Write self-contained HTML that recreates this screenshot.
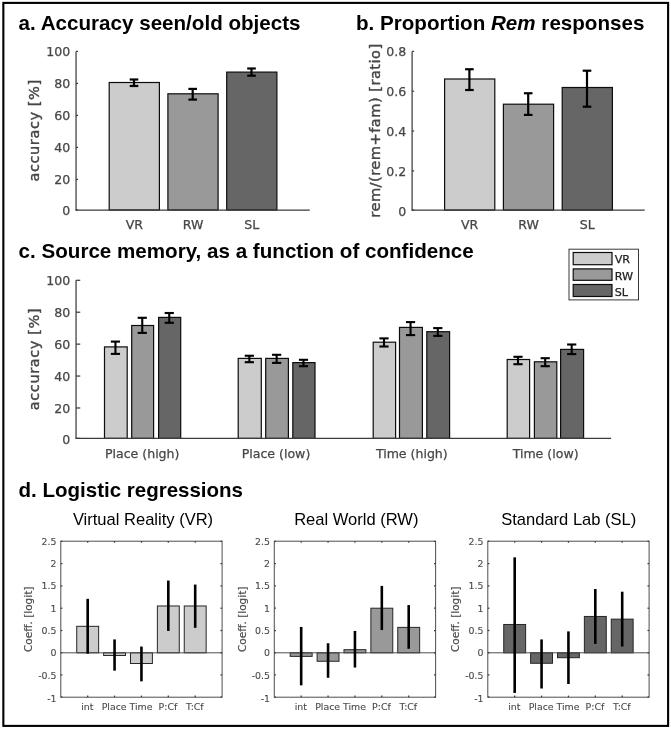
<!DOCTYPE html>
<html><head><meta charset="utf-8"><title>Figure</title>
<style>
html,body{margin:0;padding:0;background:#fff;}
svg{display:block;filter:blur(0.35px);}
text{white-space:pre;}
</style></head><body>
<svg width="671" height="729" viewBox="0 0 671 729">
<rect x="0" y="0" width="671" height="729" fill="#ffffff"/>
<rect x="3.35" y="2.9" width="664.75" height="723.0" fill="#fff" stroke="#000" stroke-width="2.1"/>
<text x="18.60" y="29.60" font-family='"Liberation Sans","DejaVu Sans",sans-serif' font-size="20.6" text-anchor="start" fill="#000" font-weight="bold" >a. Accuracy seen/old objects</text>
<text x="356.00" y="29.60" font-family='"Liberation Sans","DejaVu Sans",sans-serif' font-size="20.6" text-anchor="start" fill="#000" font-weight="bold" >b. Proportion <tspan font-style="italic">Rem</tspan> responses</text>
<text x="18.60" y="257.60" font-family='"Liberation Sans","DejaVu Sans",sans-serif' font-size="20.6" text-anchor="start" fill="#000" font-weight="bold" >c. Source memory, as a function of confidence</text>
<text x="18.60" y="496.80" font-family='"Liberation Sans","DejaVu Sans",sans-serif' font-size="20.5" text-anchor="start" fill="#000" font-weight="bold" >d. Logistic regressions</text>
<rect x="109.20" y="82.50" width="50.20" height="127.50" fill="#cccccc" stroke="#0d0d0d" stroke-width="1.2"/>
<line x1="134.00" y1="79.50" x2="134.00" y2="86.00" stroke="#000" stroke-width="2.2" />
<line x1="129.70" y1="79.50" x2="138.30" y2="79.50" stroke="#000" stroke-width="2.2" />
<line x1="129.70" y1="86.00" x2="138.30" y2="86.00" stroke="#000" stroke-width="2.2" />
<text x="134.30" y="229.40" font-family='"DejaVu Sans","Liberation Sans",sans-serif' font-size="12.55" text-anchor="middle" fill="#464646" font-weight="normal"  stroke="#464646" stroke-width="0.25">VR</text>
<rect x="167.90" y="93.80" width="50.20" height="116.20" fill="#999999" stroke="#0d0d0d" stroke-width="1.2"/>
<line x1="192.70" y1="88.90" x2="192.70" y2="99.60" stroke="#000" stroke-width="2.2" />
<line x1="188.40" y1="88.90" x2="197.00" y2="88.90" stroke="#000" stroke-width="2.2" />
<line x1="188.40" y1="99.60" x2="197.00" y2="99.60" stroke="#000" stroke-width="2.2" />
<text x="193.00" y="229.40" font-family='"DejaVu Sans","Liberation Sans",sans-serif' font-size="12.55" text-anchor="middle" fill="#464646" font-weight="normal"  stroke="#464646" stroke-width="0.25">RW</text>
<rect x="226.70" y="72.10" width="50.20" height="137.90" fill="#666666" stroke="#0d0d0d" stroke-width="1.2"/>
<line x1="251.50" y1="68.50" x2="251.50" y2="75.70" stroke="#000" stroke-width="2.2" />
<line x1="247.20" y1="68.50" x2="255.80" y2="68.50" stroke="#000" stroke-width="2.2" />
<line x1="247.20" y1="75.70" x2="255.80" y2="75.70" stroke="#000" stroke-width="2.2" />
<text x="251.80" y="229.40" font-family='"DejaVu Sans","Liberation Sans",sans-serif' font-size="12.55" text-anchor="middle" fill="#464646" font-weight="normal"  stroke="#464646" stroke-width="0.25">SL</text>
<line x1="76.05" y1="51.40" x2="76.05" y2="210.50" stroke="#3c3c3c" stroke-width="1.25" />
<line x1="75.55" y1="210.00" x2="309.75" y2="210.00" stroke="#3c3c3c" stroke-width="1.25" />
<line x1="76.05" y1="210.00" x2="78.05" y2="210.00" stroke="#3c3c3c" stroke-width="1.25" />
<text x="70.15" y="215.40" font-family='"DejaVu Sans","Liberation Sans",sans-serif' font-size="12.55" text-anchor="end" fill="#464646" font-weight="normal"  stroke="#464646" stroke-width="0.25">0</text>
<line x1="76.05" y1="179.40" x2="78.05" y2="179.40" stroke="#3c3c3c" stroke-width="1.25" />
<text x="70.15" y="184.00" font-family='"DejaVu Sans","Liberation Sans",sans-serif' font-size="12.55" text-anchor="end" fill="#464646" font-weight="normal"  stroke="#464646" stroke-width="0.25">20</text>
<line x1="76.05" y1="147.40" x2="78.05" y2="147.40" stroke="#3c3c3c" stroke-width="1.25" />
<text x="70.15" y="152.00" font-family='"DejaVu Sans","Liberation Sans",sans-serif' font-size="12.55" text-anchor="end" fill="#464646" font-weight="normal"  stroke="#464646" stroke-width="0.25">40</text>
<line x1="76.05" y1="115.40" x2="78.05" y2="115.40" stroke="#3c3c3c" stroke-width="1.25" />
<text x="70.15" y="120.00" font-family='"DejaVu Sans","Liberation Sans",sans-serif' font-size="12.55" text-anchor="end" fill="#464646" font-weight="normal"  stroke="#464646" stroke-width="0.25">60</text>
<line x1="76.05" y1="83.40" x2="78.05" y2="83.40" stroke="#3c3c3c" stroke-width="1.25" />
<text x="70.15" y="88.00" font-family='"DejaVu Sans","Liberation Sans",sans-serif' font-size="12.55" text-anchor="end" fill="#464646" font-weight="normal"  stroke="#464646" stroke-width="0.25">80</text>
<line x1="76.05" y1="51.40" x2="78.05" y2="51.40" stroke="#3c3c3c" stroke-width="1.25" />
<text x="70.15" y="56.00" font-family='"DejaVu Sans","Liberation Sans",sans-serif' font-size="12.55" text-anchor="end" fill="#464646" font-weight="normal"  stroke="#464646" stroke-width="0.25">100</text>
<text textLength="101.8" lengthAdjust="spacing" transform="translate(38.80,130.70) rotate(-90)" font-family='"DejaVu Sans","Liberation Sans",sans-serif' font-size="14.6" text-anchor="middle" fill="#464646" stroke="#464646" stroke-width="0.4">accuracy [%]</text>
<rect x="444.60" y="79.00" width="50.20" height="131.10" fill="#cccccc" stroke="#0d0d0d" stroke-width="1.2"/>
<line x1="469.40" y1="69.25" x2="469.40" y2="90.00" stroke="#000" stroke-width="2.2" />
<line x1="465.10" y1="69.25" x2="473.70" y2="69.25" stroke="#000" stroke-width="2.2" />
<line x1="465.10" y1="90.00" x2="473.70" y2="90.00" stroke="#000" stroke-width="2.2" />
<text x="469.70" y="229.40" font-family='"DejaVu Sans","Liberation Sans",sans-serif' font-size="12.55" text-anchor="middle" fill="#464646" font-weight="normal"  stroke="#464646" stroke-width="0.25">VR</text>
<rect x="503.40" y="104.20" width="50.20" height="105.90" fill="#999999" stroke="#0d0d0d" stroke-width="1.2"/>
<line x1="528.20" y1="93.25" x2="528.20" y2="114.90" stroke="#000" stroke-width="2.2" />
<line x1="523.90" y1="93.25" x2="532.50" y2="93.25" stroke="#000" stroke-width="2.2" />
<line x1="523.90" y1="114.90" x2="532.50" y2="114.90" stroke="#000" stroke-width="2.2" />
<text x="528.50" y="229.40" font-family='"DejaVu Sans","Liberation Sans",sans-serif' font-size="12.55" text-anchor="middle" fill="#464646" font-weight="normal"  stroke="#464646" stroke-width="0.25">RW</text>
<rect x="562.20" y="87.50" width="50.20" height="122.60" fill="#666666" stroke="#0d0d0d" stroke-width="1.2"/>
<line x1="587.00" y1="70.70" x2="587.00" y2="106.70" stroke="#000" stroke-width="2.2" />
<line x1="582.70" y1="70.70" x2="591.30" y2="70.70" stroke="#000" stroke-width="2.2" />
<line x1="582.70" y1="106.70" x2="591.30" y2="106.70" stroke="#000" stroke-width="2.2" />
<text x="587.30" y="229.40" font-family='"DejaVu Sans","Liberation Sans",sans-serif' font-size="12.55" text-anchor="middle" fill="#464646" font-weight="normal"  stroke="#464646" stroke-width="0.25">SL</text>
<line x1="412.10" y1="51.40" x2="412.10" y2="210.60" stroke="#3c3c3c" stroke-width="1.25" />
<line x1="411.60" y1="210.10" x2="644.70" y2="210.10" stroke="#3c3c3c" stroke-width="1.25" />
<line x1="412.10" y1="210.10" x2="414.10" y2="210.10" stroke="#3c3c3c" stroke-width="1.25" />
<text x="406.20" y="215.50" font-family='"DejaVu Sans","Liberation Sans",sans-serif' font-size="12.55" text-anchor="end" fill="#464646" font-weight="normal"  stroke="#464646" stroke-width="0.25">0</text>
<line x1="412.10" y1="170.90" x2="414.10" y2="170.90" stroke="#3c3c3c" stroke-width="1.25" />
<text x="406.20" y="175.50" font-family='"DejaVu Sans","Liberation Sans",sans-serif' font-size="12.55" text-anchor="end" fill="#464646" font-weight="normal"  stroke="#464646" stroke-width="0.25">0.2</text>
<line x1="412.10" y1="131.05" x2="414.10" y2="131.05" stroke="#3c3c3c" stroke-width="1.25" />
<text x="406.20" y="135.65" font-family='"DejaVu Sans","Liberation Sans",sans-serif' font-size="12.55" text-anchor="end" fill="#464646" font-weight="normal"  stroke="#464646" stroke-width="0.25">0.4</text>
<line x1="412.10" y1="91.20" x2="414.10" y2="91.20" stroke="#3c3c3c" stroke-width="1.25" />
<text x="406.20" y="95.80" font-family='"DejaVu Sans","Liberation Sans",sans-serif' font-size="12.55" text-anchor="end" fill="#464646" font-weight="normal"  stroke="#464646" stroke-width="0.25">0.6</text>
<line x1="412.10" y1="51.40" x2="414.10" y2="51.40" stroke="#3c3c3c" stroke-width="1.25" />
<text x="406.20" y="56.00" font-family='"DejaVu Sans","Liberation Sans",sans-serif' font-size="12.55" text-anchor="end" fill="#464646" font-weight="normal"  stroke="#464646" stroke-width="0.25">0.8</text>
<text textLength="174.0" lengthAdjust="spacing" transform="translate(379.60,130.75) rotate(-90)" font-family='"DejaVu Sans","Liberation Sans",sans-serif' font-size="14.6" text-anchor="middle" fill="#464646" stroke="#464646" stroke-width="0.4">rem/(rem+fam) [ratio]</text>
<rect x="104.50" y="346.90" width="22.70" height="91.50" fill="#cccccc" stroke="#0d0d0d" stroke-width="1.2"/>
<line x1="115.45" y1="341.60" x2="115.45" y2="353.90" stroke="#000" stroke-width="2.1" />
<line x1="110.85" y1="341.60" x2="120.05" y2="341.60" stroke="#000" stroke-width="2.1" />
<line x1="110.85" y1="353.90" x2="120.05" y2="353.90" stroke="#000" stroke-width="2.1" />
<rect x="131.70" y="325.50" width="21.90" height="112.90" fill="#999999" stroke="#0d0d0d" stroke-width="1.2"/>
<line x1="142.25" y1="317.80" x2="142.25" y2="332.90" stroke="#000" stroke-width="2.1" />
<line x1="137.65" y1="317.80" x2="146.85" y2="317.80" stroke="#000" stroke-width="2.1" />
<line x1="137.65" y1="332.90" x2="146.85" y2="332.90" stroke="#000" stroke-width="2.1" />
<rect x="158.60" y="317.40" width="22.10" height="121.00" fill="#666666" stroke="#0d0d0d" stroke-width="1.2"/>
<line x1="169.25" y1="313.00" x2="169.25" y2="322.80" stroke="#000" stroke-width="2.1" />
<line x1="164.65" y1="313.00" x2="173.85" y2="313.00" stroke="#000" stroke-width="2.1" />
<line x1="164.65" y1="322.80" x2="173.85" y2="322.80" stroke="#000" stroke-width="2.1" />
<text x="142.20" y="457.70" font-family='"DejaVu Sans","Liberation Sans",sans-serif' font-size="12.55" text-anchor="middle" fill="#464646" font-weight="normal"  stroke="#464646" stroke-width="0.25">Place (high)</text>
<rect x="238.20" y="358.40" width="23.10" height="80.00" fill="#cccccc" stroke="#0d0d0d" stroke-width="1.2"/>
<line x1="249.35" y1="355.75" x2="249.35" y2="362.20" stroke="#000" stroke-width="2.1" />
<line x1="244.75" y1="355.75" x2="253.95" y2="355.75" stroke="#000" stroke-width="2.1" />
<line x1="244.75" y1="362.20" x2="253.95" y2="362.20" stroke="#000" stroke-width="2.1" />
<rect x="265.70" y="358.40" width="22.70" height="80.00" fill="#999999" stroke="#0d0d0d" stroke-width="1.2"/>
<line x1="276.65" y1="354.80" x2="276.65" y2="362.90" stroke="#000" stroke-width="2.1" />
<line x1="272.05" y1="354.80" x2="281.25" y2="354.80" stroke="#000" stroke-width="2.1" />
<line x1="272.05" y1="362.90" x2="281.25" y2="362.90" stroke="#000" stroke-width="2.1" />
<rect x="292.80" y="362.60" width="22.20" height="75.80" fill="#666666" stroke="#0d0d0d" stroke-width="1.2"/>
<line x1="303.50" y1="359.80" x2="303.50" y2="366.20" stroke="#000" stroke-width="2.1" />
<line x1="298.90" y1="359.80" x2="308.10" y2="359.80" stroke="#000" stroke-width="2.1" />
<line x1="298.90" y1="366.20" x2="308.10" y2="366.20" stroke="#000" stroke-width="2.1" />
<text x="276.00" y="457.70" font-family='"DejaVu Sans","Liberation Sans",sans-serif' font-size="12.55" text-anchor="middle" fill="#464646" font-weight="normal"  stroke="#464646" stroke-width="0.25">Place (low)</text>
<rect x="373.20" y="342.20" width="22.40" height="96.20" fill="#cccccc" stroke="#0d0d0d" stroke-width="1.2"/>
<line x1="384.00" y1="338.40" x2="384.00" y2="346.50" stroke="#000" stroke-width="2.1" />
<line x1="379.40" y1="338.40" x2="388.60" y2="338.40" stroke="#000" stroke-width="2.1" />
<line x1="379.40" y1="346.50" x2="388.60" y2="346.50" stroke="#000" stroke-width="2.1" />
<rect x="399.50" y="327.40" width="22.90" height="111.00" fill="#999999" stroke="#0d0d0d" stroke-width="1.2"/>
<line x1="410.55" y1="322.10" x2="410.55" y2="335.10" stroke="#000" stroke-width="2.1" />
<line x1="405.95" y1="322.10" x2="415.15" y2="322.10" stroke="#000" stroke-width="2.1" />
<line x1="405.95" y1="335.10" x2="415.15" y2="335.10" stroke="#000" stroke-width="2.1" />
<rect x="426.80" y="331.70" width="22.80" height="106.70" fill="#666666" stroke="#0d0d0d" stroke-width="1.2"/>
<line x1="437.80" y1="328.10" x2="437.80" y2="335.90" stroke="#000" stroke-width="2.1" />
<line x1="433.20" y1="328.10" x2="442.40" y2="328.10" stroke="#000" stroke-width="2.1" />
<line x1="433.20" y1="335.90" x2="442.40" y2="335.90" stroke="#000" stroke-width="2.1" />
<text x="411.80" y="457.70" font-family='"DejaVu Sans","Liberation Sans",sans-serif' font-size="12.55" text-anchor="middle" fill="#464646" font-weight="normal"  stroke="#464646" stroke-width="0.25">Time (high)</text>
<rect x="507.20" y="359.50" width="22.40" height="78.90" fill="#cccccc" stroke="#0d0d0d" stroke-width="1.2"/>
<line x1="518.00" y1="356.80" x2="518.00" y2="364.20" stroke="#000" stroke-width="2.1" />
<line x1="513.40" y1="356.80" x2="522.60" y2="356.80" stroke="#000" stroke-width="2.1" />
<line x1="513.40" y1="364.20" x2="522.60" y2="364.20" stroke="#000" stroke-width="2.1" />
<rect x="534.40" y="361.80" width="22.40" height="76.60" fill="#999999" stroke="#0d0d0d" stroke-width="1.2"/>
<line x1="545.20" y1="358.20" x2="545.20" y2="366.20" stroke="#000" stroke-width="2.1" />
<line x1="540.60" y1="358.20" x2="549.80" y2="358.20" stroke="#000" stroke-width="2.1" />
<line x1="540.60" y1="366.20" x2="549.80" y2="366.20" stroke="#000" stroke-width="2.1" />
<rect x="560.60" y="349.40" width="23.00" height="89.00" fill="#666666" stroke="#0d0d0d" stroke-width="1.2"/>
<line x1="571.70" y1="344.50" x2="571.70" y2="354.10" stroke="#000" stroke-width="2.1" />
<line x1="567.10" y1="344.50" x2="576.30" y2="344.50" stroke="#000" stroke-width="2.1" />
<line x1="567.10" y1="354.10" x2="576.30" y2="354.10" stroke="#000" stroke-width="2.1" />
<text x="545.60" y="457.70" font-family='"DejaVu Sans","Liberation Sans",sans-serif' font-size="12.55" text-anchor="middle" fill="#464646" font-weight="normal"  stroke="#464646" stroke-width="0.25">Time (low)</text>
<line x1="76.05" y1="280.30" x2="76.05" y2="438.90" stroke="#3c3c3c" stroke-width="1.25" />
<line x1="75.55" y1="438.40" x2="611.05" y2="438.40" stroke="#3c3c3c" stroke-width="1.25" />
<line x1="76.05" y1="438.40" x2="80.25" y2="438.40" stroke="#3c3c3c" stroke-width="1.25" />
<text x="70.15" y="443.80" font-family='"DejaVu Sans","Liberation Sans",sans-serif' font-size="12.55" text-anchor="end" fill="#464646" font-weight="normal"  stroke="#464646" stroke-width="0.25">0</text>
<line x1="76.05" y1="407.98" x2="80.25" y2="407.98" stroke="#3c3c3c" stroke-width="1.25" />
<text x="70.15" y="412.58" font-family='"DejaVu Sans","Liberation Sans",sans-serif' font-size="12.55" text-anchor="end" fill="#464646" font-weight="normal"  stroke="#464646" stroke-width="0.25">20</text>
<line x1="76.05" y1="376.06" x2="80.25" y2="376.06" stroke="#3c3c3c" stroke-width="1.25" />
<text x="70.15" y="380.66" font-family='"DejaVu Sans","Liberation Sans",sans-serif' font-size="12.55" text-anchor="end" fill="#464646" font-weight="normal"  stroke="#464646" stroke-width="0.25">40</text>
<line x1="76.05" y1="344.14" x2="80.25" y2="344.14" stroke="#3c3c3c" stroke-width="1.25" />
<text x="70.15" y="348.74" font-family='"DejaVu Sans","Liberation Sans",sans-serif' font-size="12.55" text-anchor="end" fill="#464646" font-weight="normal"  stroke="#464646" stroke-width="0.25">60</text>
<line x1="76.05" y1="312.22" x2="80.25" y2="312.22" stroke="#3c3c3c" stroke-width="1.25" />
<text x="70.15" y="316.82" font-family='"DejaVu Sans","Liberation Sans",sans-serif' font-size="12.55" text-anchor="end" fill="#464646" font-weight="normal"  stroke="#464646" stroke-width="0.25">80</text>
<line x1="76.05" y1="280.30" x2="80.25" y2="280.30" stroke="#3c3c3c" stroke-width="1.25" />
<text x="70.15" y="284.90" font-family='"DejaVu Sans","Liberation Sans",sans-serif' font-size="12.55" text-anchor="end" fill="#464646" font-weight="normal"  stroke="#464646" stroke-width="0.25">100</text>
<text textLength="101.8" lengthAdjust="spacing" transform="translate(38.80,359.35) rotate(-90)" font-family='"DejaVu Sans","Liberation Sans",sans-serif' font-size="14.6" text-anchor="middle" fill="#464646" stroke="#464646" stroke-width="0.4">accuracy [%]</text>
<rect x="569.0" y="249.2" width="69.5" height="50.7" fill="#fff" stroke="#383838" stroke-width="1"/>
<rect x="573.20" y="252.50" width="38.80" height="12.20" fill="#cccccc" stroke="#0d0d0d" stroke-width="1.2"/>
<text x="614.70" y="263.40" font-family='"DejaVu Sans","Liberation Sans",sans-serif' font-size="11.2" text-anchor="start" fill="#222" font-weight="normal"  stroke="#222" stroke-width="0.25">VR</text>
<rect x="573.20" y="268.90" width="38.80" height="11.40" fill="#999999" stroke="#0d0d0d" stroke-width="1.2"/>
<text x="614.70" y="279.60" font-family='"DejaVu Sans","Liberation Sans",sans-serif' font-size="11.2" text-anchor="start" fill="#222" font-weight="normal"  stroke="#222" stroke-width="0.25">RW</text>
<rect x="573.20" y="284.50" width="38.80" height="12.00" fill="#666666" stroke="#0d0d0d" stroke-width="1.2"/>
<text x="614.70" y="296.00" font-family='"DejaVu Sans","Liberation Sans",sans-serif' font-size="11.2" text-anchor="start" fill="#222" font-weight="normal"  stroke="#222" stroke-width="0.25">SL</text>
<text x="143.00" y="524.60" font-family='"Liberation Sans","DejaVu Sans",sans-serif' font-size="16.55" text-anchor="middle" fill="#000" font-weight="normal" >Virtual Reality (VR)</text>
<rect x="76.73" y="626.31" width="21.90" height="26.49" fill="#cccccc" stroke="#262626" stroke-width="1.0"/>
<rect x="103.61" y="652.80" width="21.90" height="2.68" fill="#cccccc" stroke="#262626" stroke-width="1.0"/>
<rect x="130.49" y="652.80" width="21.90" height="10.70" fill="#cccccc" stroke="#262626" stroke-width="1.0"/>
<rect x="157.37" y="605.97" width="21.90" height="46.83" fill="#cccccc" stroke="#262626" stroke-width="1.0"/>
<rect x="184.25" y="605.97" width="21.90" height="46.83" fill="#cccccc" stroke="#262626" stroke-width="1.0"/>
<line x1="60.80" y1="652.80" x2="222.10" y2="652.80" stroke="#4d4d4d" stroke-width="1" />
<line x1="87.68" y1="598.83" x2="87.68" y2="653.69" stroke="#000" stroke-width="2.6" />
<line x1="114.56" y1="639.42" x2="114.56" y2="670.64" stroke="#000" stroke-width="2.6" />
<line x1="141.44" y1="646.56" x2="141.44" y2="681.34" stroke="#000" stroke-width="2.6" />
<line x1="168.32" y1="580.55" x2="168.32" y2="630.95" stroke="#000" stroke-width="2.6" />
<line x1="195.20" y1="584.56" x2="195.20" y2="627.82" stroke="#000" stroke-width="2.6" />
<rect x="60.80" y="541.20" width="161.30" height="156.00" fill="none" stroke="#4d4d4d" stroke-width="1"/>
<line x1="60.80" y1="541.30" x2="62.40" y2="541.30" stroke="#3c3c3c" stroke-width="1.25" />
<line x1="220.50" y1="541.30" x2="222.10" y2="541.30" stroke="#3c3c3c" stroke-width="1.25" />
<text x="56.50" y="544.70" font-family='"DejaVu Sans","Liberation Sans",sans-serif' font-size="9.4" text-anchor="end" fill="#4a4a4a" stroke="#4a4a4a" stroke-width="0.12">2.5</text>
<line x1="60.80" y1="563.60" x2="62.40" y2="563.60" stroke="#3c3c3c" stroke-width="1.25" />
<line x1="220.50" y1="563.60" x2="222.10" y2="563.60" stroke="#3c3c3c" stroke-width="1.25" />
<text x="56.50" y="567.00" font-family='"DejaVu Sans","Liberation Sans",sans-serif' font-size="9.4" text-anchor="end" fill="#4a4a4a" stroke="#4a4a4a" stroke-width="0.12">2</text>
<line x1="60.80" y1="585.90" x2="62.40" y2="585.90" stroke="#3c3c3c" stroke-width="1.25" />
<line x1="220.50" y1="585.90" x2="222.10" y2="585.90" stroke="#3c3c3c" stroke-width="1.25" />
<text x="56.50" y="589.30" font-family='"DejaVu Sans","Liberation Sans",sans-serif' font-size="9.4" text-anchor="end" fill="#4a4a4a" stroke="#4a4a4a" stroke-width="0.12">1.5</text>
<line x1="60.80" y1="608.20" x2="62.40" y2="608.20" stroke="#3c3c3c" stroke-width="1.25" />
<line x1="220.50" y1="608.20" x2="222.10" y2="608.20" stroke="#3c3c3c" stroke-width="1.25" />
<text x="56.50" y="611.60" font-family='"DejaVu Sans","Liberation Sans",sans-serif' font-size="9.4" text-anchor="end" fill="#4a4a4a" stroke="#4a4a4a" stroke-width="0.12">1</text>
<line x1="60.80" y1="630.50" x2="62.40" y2="630.50" stroke="#3c3c3c" stroke-width="1.25" />
<line x1="220.50" y1="630.50" x2="222.10" y2="630.50" stroke="#3c3c3c" stroke-width="1.25" />
<text x="56.50" y="633.90" font-family='"DejaVu Sans","Liberation Sans",sans-serif' font-size="9.4" text-anchor="end" fill="#4a4a4a" stroke="#4a4a4a" stroke-width="0.12">0.5</text>
<line x1="60.80" y1="652.80" x2="62.40" y2="652.80" stroke="#3c3c3c" stroke-width="1.25" />
<line x1="220.50" y1="652.80" x2="222.10" y2="652.80" stroke="#3c3c3c" stroke-width="1.25" />
<text x="56.50" y="656.20" font-family='"DejaVu Sans","Liberation Sans",sans-serif' font-size="9.4" text-anchor="end" fill="#4a4a4a" stroke="#4a4a4a" stroke-width="0.12">0</text>
<line x1="60.80" y1="674.90" x2="62.40" y2="674.90" stroke="#3c3c3c" stroke-width="1.25" />
<line x1="220.50" y1="674.90" x2="222.10" y2="674.90" stroke="#3c3c3c" stroke-width="1.25" />
<text x="56.50" y="679.40" font-family='"DejaVu Sans","Liberation Sans",sans-serif' font-size="9.4" text-anchor="end" fill="#4a4a4a" stroke="#4a4a4a" stroke-width="0.12">-0.5</text>
<line x1="60.80" y1="697.00" x2="62.40" y2="697.00" stroke="#3c3c3c" stroke-width="1.25" />
<line x1="220.50" y1="697.00" x2="222.10" y2="697.00" stroke="#3c3c3c" stroke-width="1.25" />
<text x="56.50" y="701.50" font-family='"DejaVu Sans","Liberation Sans",sans-serif' font-size="9.4" text-anchor="end" fill="#4a4a4a" stroke="#4a4a4a" stroke-width="0.12">-1</text>
<line x1="87.68" y1="695.60" x2="87.68" y2="697.20" stroke="#3c3c3c" stroke-width="1.25" />
<line x1="87.68" y1="541.20" x2="87.68" y2="542.80" stroke="#3c3c3c" stroke-width="1.25" />
<text x="87.28" y="710.40" font-family='"DejaVu Sans","Liberation Sans",sans-serif' font-size="9.4" text-anchor="middle" fill="#4a4a4a" stroke="#4a4a4a" stroke-width="0.12">int</text>
<line x1="114.56" y1="695.60" x2="114.56" y2="697.20" stroke="#3c3c3c" stroke-width="1.25" />
<line x1="114.56" y1="541.20" x2="114.56" y2="542.80" stroke="#3c3c3c" stroke-width="1.25" />
<text x="114.16" y="710.40" font-family='"DejaVu Sans","Liberation Sans",sans-serif' font-size="9.4" text-anchor="middle" fill="#4a4a4a" stroke="#4a4a4a" stroke-width="0.12">Place</text>
<line x1="141.44" y1="695.60" x2="141.44" y2="697.20" stroke="#3c3c3c" stroke-width="1.25" />
<line x1="141.44" y1="541.20" x2="141.44" y2="542.80" stroke="#3c3c3c" stroke-width="1.25" />
<text x="141.04" y="710.40" font-family='"DejaVu Sans","Liberation Sans",sans-serif' font-size="9.4" text-anchor="middle" fill="#4a4a4a" stroke="#4a4a4a" stroke-width="0.12">Time</text>
<line x1="168.32" y1="695.60" x2="168.32" y2="697.20" stroke="#3c3c3c" stroke-width="1.25" />
<line x1="168.32" y1="541.20" x2="168.32" y2="542.80" stroke="#3c3c3c" stroke-width="1.25" />
<text x="167.92" y="710.40" font-family='"DejaVu Sans","Liberation Sans",sans-serif' font-size="9.4" text-anchor="middle" fill="#4a4a4a" stroke="#4a4a4a" stroke-width="0.12">P:Cf</text>
<line x1="195.20" y1="695.60" x2="195.20" y2="697.20" stroke="#3c3c3c" stroke-width="1.25" />
<line x1="195.20" y1="541.20" x2="195.20" y2="542.80" stroke="#3c3c3c" stroke-width="1.25" />
<text x="194.80" y="710.40" font-family='"DejaVu Sans","Liberation Sans",sans-serif' font-size="9.4" text-anchor="middle" fill="#4a4a4a" stroke="#4a4a4a" stroke-width="0.12">T:Cf</text>
<text transform="translate(32.30,619.30) rotate(-90)" font-family='"DejaVu Sans","Liberation Sans",sans-serif' font-size="10.5" text-anchor="middle" fill="#4a4a4a" stroke="#4a4a4a" stroke-width="0.15">Coeff. [logit]</text>
<text x="356.30" y="524.60" font-family='"Liberation Sans","DejaVu Sans",sans-serif' font-size="16.55" text-anchor="middle" fill="#000" font-weight="normal" >Real World (RW)</text>
<rect x="290.23" y="652.80" width="21.90" height="3.57" fill="#999999" stroke="#262626" stroke-width="1.0"/>
<rect x="317.11" y="652.80" width="21.90" height="8.47" fill="#999999" stroke="#262626" stroke-width="1.0"/>
<rect x="343.99" y="649.68" width="21.90" height="3.12" fill="#999999" stroke="#262626" stroke-width="1.0"/>
<rect x="370.87" y="608.20" width="21.90" height="44.60" fill="#999999" stroke="#262626" stroke-width="1.0"/>
<rect x="397.75" y="627.38" width="21.90" height="25.42" fill="#999999" stroke="#262626" stroke-width="1.0"/>
<line x1="274.30" y1="652.80" x2="435.60" y2="652.80" stroke="#4d4d4d" stroke-width="1" />
<line x1="301.18" y1="626.93" x2="301.18" y2="685.36" stroke="#000" stroke-width="2.6" />
<line x1="328.06" y1="643.21" x2="328.06" y2="677.78" stroke="#000" stroke-width="2.6" />
<line x1="354.94" y1="630.95" x2="354.94" y2="667.52" stroke="#000" stroke-width="2.6" />
<line x1="381.82" y1="585.90" x2="381.82" y2="630.05" stroke="#000" stroke-width="2.6" />
<line x1="408.70" y1="605.08" x2="408.70" y2="648.79" stroke="#000" stroke-width="2.6" />
<rect x="274.30" y="541.20" width="161.30" height="156.00" fill="none" stroke="#4d4d4d" stroke-width="1"/>
<line x1="274.30" y1="541.30" x2="275.90" y2="541.30" stroke="#3c3c3c" stroke-width="1.25" />
<line x1="434.00" y1="541.30" x2="435.60" y2="541.30" stroke="#3c3c3c" stroke-width="1.25" />
<text x="270.00" y="544.70" font-family='"DejaVu Sans","Liberation Sans",sans-serif' font-size="9.4" text-anchor="end" fill="#4a4a4a" stroke="#4a4a4a" stroke-width="0.12">2.5</text>
<line x1="274.30" y1="563.60" x2="275.90" y2="563.60" stroke="#3c3c3c" stroke-width="1.25" />
<line x1="434.00" y1="563.60" x2="435.60" y2="563.60" stroke="#3c3c3c" stroke-width="1.25" />
<text x="270.00" y="567.00" font-family='"DejaVu Sans","Liberation Sans",sans-serif' font-size="9.4" text-anchor="end" fill="#4a4a4a" stroke="#4a4a4a" stroke-width="0.12">2</text>
<line x1="274.30" y1="585.90" x2="275.90" y2="585.90" stroke="#3c3c3c" stroke-width="1.25" />
<line x1="434.00" y1="585.90" x2="435.60" y2="585.90" stroke="#3c3c3c" stroke-width="1.25" />
<text x="270.00" y="589.30" font-family='"DejaVu Sans","Liberation Sans",sans-serif' font-size="9.4" text-anchor="end" fill="#4a4a4a" stroke="#4a4a4a" stroke-width="0.12">1.5</text>
<line x1="274.30" y1="608.20" x2="275.90" y2="608.20" stroke="#3c3c3c" stroke-width="1.25" />
<line x1="434.00" y1="608.20" x2="435.60" y2="608.20" stroke="#3c3c3c" stroke-width="1.25" />
<text x="270.00" y="611.60" font-family='"DejaVu Sans","Liberation Sans",sans-serif' font-size="9.4" text-anchor="end" fill="#4a4a4a" stroke="#4a4a4a" stroke-width="0.12">1</text>
<line x1="274.30" y1="630.50" x2="275.90" y2="630.50" stroke="#3c3c3c" stroke-width="1.25" />
<line x1="434.00" y1="630.50" x2="435.60" y2="630.50" stroke="#3c3c3c" stroke-width="1.25" />
<text x="270.00" y="633.90" font-family='"DejaVu Sans","Liberation Sans",sans-serif' font-size="9.4" text-anchor="end" fill="#4a4a4a" stroke="#4a4a4a" stroke-width="0.12">0.5</text>
<line x1="274.30" y1="652.80" x2="275.90" y2="652.80" stroke="#3c3c3c" stroke-width="1.25" />
<line x1="434.00" y1="652.80" x2="435.60" y2="652.80" stroke="#3c3c3c" stroke-width="1.25" />
<text x="270.00" y="656.20" font-family='"DejaVu Sans","Liberation Sans",sans-serif' font-size="9.4" text-anchor="end" fill="#4a4a4a" stroke="#4a4a4a" stroke-width="0.12">0</text>
<line x1="274.30" y1="674.90" x2="275.90" y2="674.90" stroke="#3c3c3c" stroke-width="1.25" />
<line x1="434.00" y1="674.90" x2="435.60" y2="674.90" stroke="#3c3c3c" stroke-width="1.25" />
<text x="270.00" y="679.40" font-family='"DejaVu Sans","Liberation Sans",sans-serif' font-size="9.4" text-anchor="end" fill="#4a4a4a" stroke="#4a4a4a" stroke-width="0.12">-0.5</text>
<line x1="274.30" y1="697.00" x2="275.90" y2="697.00" stroke="#3c3c3c" stroke-width="1.25" />
<line x1="434.00" y1="697.00" x2="435.60" y2="697.00" stroke="#3c3c3c" stroke-width="1.25" />
<text x="270.00" y="701.50" font-family='"DejaVu Sans","Liberation Sans",sans-serif' font-size="9.4" text-anchor="end" fill="#4a4a4a" stroke="#4a4a4a" stroke-width="0.12">-1</text>
<line x1="301.18" y1="695.60" x2="301.18" y2="697.20" stroke="#3c3c3c" stroke-width="1.25" />
<line x1="301.18" y1="541.20" x2="301.18" y2="542.80" stroke="#3c3c3c" stroke-width="1.25" />
<text x="300.78" y="710.40" font-family='"DejaVu Sans","Liberation Sans",sans-serif' font-size="9.4" text-anchor="middle" fill="#4a4a4a" stroke="#4a4a4a" stroke-width="0.12">int</text>
<line x1="328.06" y1="695.60" x2="328.06" y2="697.20" stroke="#3c3c3c" stroke-width="1.25" />
<line x1="328.06" y1="541.20" x2="328.06" y2="542.80" stroke="#3c3c3c" stroke-width="1.25" />
<text x="327.66" y="710.40" font-family='"DejaVu Sans","Liberation Sans",sans-serif' font-size="9.4" text-anchor="middle" fill="#4a4a4a" stroke="#4a4a4a" stroke-width="0.12">Place</text>
<line x1="354.94" y1="695.60" x2="354.94" y2="697.20" stroke="#3c3c3c" stroke-width="1.25" />
<line x1="354.94" y1="541.20" x2="354.94" y2="542.80" stroke="#3c3c3c" stroke-width="1.25" />
<text x="354.54" y="710.40" font-family='"DejaVu Sans","Liberation Sans",sans-serif' font-size="9.4" text-anchor="middle" fill="#4a4a4a" stroke="#4a4a4a" stroke-width="0.12">Time</text>
<line x1="381.82" y1="695.60" x2="381.82" y2="697.20" stroke="#3c3c3c" stroke-width="1.25" />
<line x1="381.82" y1="541.20" x2="381.82" y2="542.80" stroke="#3c3c3c" stroke-width="1.25" />
<text x="381.42" y="710.40" font-family='"DejaVu Sans","Liberation Sans",sans-serif' font-size="9.4" text-anchor="middle" fill="#4a4a4a" stroke="#4a4a4a" stroke-width="0.12">P:Cf</text>
<line x1="408.70" y1="695.60" x2="408.70" y2="697.20" stroke="#3c3c3c" stroke-width="1.25" />
<line x1="408.70" y1="541.20" x2="408.70" y2="542.80" stroke="#3c3c3c" stroke-width="1.25" />
<text x="408.30" y="710.40" font-family='"DejaVu Sans","Liberation Sans",sans-serif' font-size="9.4" text-anchor="middle" fill="#4a4a4a" stroke="#4a4a4a" stroke-width="0.12">T:Cf</text>
<text transform="translate(245.80,619.30) rotate(-90)" font-family='"DejaVu Sans","Liberation Sans",sans-serif' font-size="10.5" text-anchor="middle" fill="#4a4a4a" stroke="#4a4a4a" stroke-width="0.15">Coeff. [logit]</text>
<text x="568.75" y="524.60" font-family='"Liberation Sans","DejaVu Sans",sans-serif' font-size="16.55" text-anchor="middle" fill="#000" font-weight="normal" >Standard Lab (SL)</text>
<rect x="503.73" y="624.48" width="21.90" height="28.32" fill="#666666" stroke="#262626" stroke-width="1.0"/>
<rect x="530.61" y="652.80" width="21.90" height="10.48" fill="#666666" stroke="#262626" stroke-width="1.0"/>
<rect x="557.49" y="652.80" width="21.90" height="4.91" fill="#666666" stroke="#262626" stroke-width="1.0"/>
<rect x="584.37" y="616.45" width="21.90" height="36.35" fill="#666666" stroke="#262626" stroke-width="1.0"/>
<rect x="611.25" y="619.13" width="21.90" height="33.67" fill="#666666" stroke="#262626" stroke-width="1.0"/>
<line x1="487.80" y1="652.80" x2="649.10" y2="652.80" stroke="#4d4d4d" stroke-width="1" />
<line x1="514.68" y1="557.36" x2="514.68" y2="692.94" stroke="#000" stroke-width="2.6" />
<line x1="541.56" y1="639.42" x2="541.56" y2="688.48" stroke="#000" stroke-width="2.6" />
<line x1="568.44" y1="631.39" x2="568.44" y2="684.02" stroke="#000" stroke-width="2.6" />
<line x1="595.32" y1="589.02" x2="595.32" y2="643.88" stroke="#000" stroke-width="2.6" />
<line x1="622.20" y1="591.70" x2="622.20" y2="646.56" stroke="#000" stroke-width="2.6" />
<rect x="487.80" y="541.20" width="161.30" height="156.00" fill="none" stroke="#4d4d4d" stroke-width="1"/>
<line x1="487.80" y1="541.30" x2="489.40" y2="541.30" stroke="#3c3c3c" stroke-width="1.25" />
<line x1="647.50" y1="541.30" x2="649.10" y2="541.30" stroke="#3c3c3c" stroke-width="1.25" />
<text x="483.50" y="544.70" font-family='"DejaVu Sans","Liberation Sans",sans-serif' font-size="9.4" text-anchor="end" fill="#4a4a4a" stroke="#4a4a4a" stroke-width="0.12">2.5</text>
<line x1="487.80" y1="563.60" x2="489.40" y2="563.60" stroke="#3c3c3c" stroke-width="1.25" />
<line x1="647.50" y1="563.60" x2="649.10" y2="563.60" stroke="#3c3c3c" stroke-width="1.25" />
<text x="483.50" y="567.00" font-family='"DejaVu Sans","Liberation Sans",sans-serif' font-size="9.4" text-anchor="end" fill="#4a4a4a" stroke="#4a4a4a" stroke-width="0.12">2</text>
<line x1="487.80" y1="585.90" x2="489.40" y2="585.90" stroke="#3c3c3c" stroke-width="1.25" />
<line x1="647.50" y1="585.90" x2="649.10" y2="585.90" stroke="#3c3c3c" stroke-width="1.25" />
<text x="483.50" y="589.30" font-family='"DejaVu Sans","Liberation Sans",sans-serif' font-size="9.4" text-anchor="end" fill="#4a4a4a" stroke="#4a4a4a" stroke-width="0.12">1.5</text>
<line x1="487.80" y1="608.20" x2="489.40" y2="608.20" stroke="#3c3c3c" stroke-width="1.25" />
<line x1="647.50" y1="608.20" x2="649.10" y2="608.20" stroke="#3c3c3c" stroke-width="1.25" />
<text x="483.50" y="611.60" font-family='"DejaVu Sans","Liberation Sans",sans-serif' font-size="9.4" text-anchor="end" fill="#4a4a4a" stroke="#4a4a4a" stroke-width="0.12">1</text>
<line x1="487.80" y1="630.50" x2="489.40" y2="630.50" stroke="#3c3c3c" stroke-width="1.25" />
<line x1="647.50" y1="630.50" x2="649.10" y2="630.50" stroke="#3c3c3c" stroke-width="1.25" />
<text x="483.50" y="633.90" font-family='"DejaVu Sans","Liberation Sans",sans-serif' font-size="9.4" text-anchor="end" fill="#4a4a4a" stroke="#4a4a4a" stroke-width="0.12">0.5</text>
<line x1="487.80" y1="652.80" x2="489.40" y2="652.80" stroke="#3c3c3c" stroke-width="1.25" />
<line x1="647.50" y1="652.80" x2="649.10" y2="652.80" stroke="#3c3c3c" stroke-width="1.25" />
<text x="483.50" y="656.20" font-family='"DejaVu Sans","Liberation Sans",sans-serif' font-size="9.4" text-anchor="end" fill="#4a4a4a" stroke="#4a4a4a" stroke-width="0.12">0</text>
<line x1="487.80" y1="674.90" x2="489.40" y2="674.90" stroke="#3c3c3c" stroke-width="1.25" />
<line x1="647.50" y1="674.90" x2="649.10" y2="674.90" stroke="#3c3c3c" stroke-width="1.25" />
<text x="483.50" y="679.40" font-family='"DejaVu Sans","Liberation Sans",sans-serif' font-size="9.4" text-anchor="end" fill="#4a4a4a" stroke="#4a4a4a" stroke-width="0.12">-0.5</text>
<line x1="487.80" y1="697.00" x2="489.40" y2="697.00" stroke="#3c3c3c" stroke-width="1.25" />
<line x1="647.50" y1="697.00" x2="649.10" y2="697.00" stroke="#3c3c3c" stroke-width="1.25" />
<text x="483.50" y="701.50" font-family='"DejaVu Sans","Liberation Sans",sans-serif' font-size="9.4" text-anchor="end" fill="#4a4a4a" stroke="#4a4a4a" stroke-width="0.12">-1</text>
<line x1="514.68" y1="695.60" x2="514.68" y2="697.20" stroke="#3c3c3c" stroke-width="1.25" />
<line x1="514.68" y1="541.20" x2="514.68" y2="542.80" stroke="#3c3c3c" stroke-width="1.25" />
<text x="514.28" y="710.40" font-family='"DejaVu Sans","Liberation Sans",sans-serif' font-size="9.4" text-anchor="middle" fill="#4a4a4a" stroke="#4a4a4a" stroke-width="0.12">int</text>
<line x1="541.56" y1="695.60" x2="541.56" y2="697.20" stroke="#3c3c3c" stroke-width="1.25" />
<line x1="541.56" y1="541.20" x2="541.56" y2="542.80" stroke="#3c3c3c" stroke-width="1.25" />
<text x="541.16" y="710.40" font-family='"DejaVu Sans","Liberation Sans",sans-serif' font-size="9.4" text-anchor="middle" fill="#4a4a4a" stroke="#4a4a4a" stroke-width="0.12">Place</text>
<line x1="568.44" y1="695.60" x2="568.44" y2="697.20" stroke="#3c3c3c" stroke-width="1.25" />
<line x1="568.44" y1="541.20" x2="568.44" y2="542.80" stroke="#3c3c3c" stroke-width="1.25" />
<text x="568.04" y="710.40" font-family='"DejaVu Sans","Liberation Sans",sans-serif' font-size="9.4" text-anchor="middle" fill="#4a4a4a" stroke="#4a4a4a" stroke-width="0.12">Time</text>
<line x1="595.32" y1="695.60" x2="595.32" y2="697.20" stroke="#3c3c3c" stroke-width="1.25" />
<line x1="595.32" y1="541.20" x2="595.32" y2="542.80" stroke="#3c3c3c" stroke-width="1.25" />
<text x="594.92" y="710.40" font-family='"DejaVu Sans","Liberation Sans",sans-serif' font-size="9.4" text-anchor="middle" fill="#4a4a4a" stroke="#4a4a4a" stroke-width="0.12">P:Cf</text>
<line x1="622.20" y1="695.60" x2="622.20" y2="697.20" stroke="#3c3c3c" stroke-width="1.25" />
<line x1="622.20" y1="541.20" x2="622.20" y2="542.80" stroke="#3c3c3c" stroke-width="1.25" />
<text x="621.80" y="710.40" font-family='"DejaVu Sans","Liberation Sans",sans-serif' font-size="9.4" text-anchor="middle" fill="#4a4a4a" stroke="#4a4a4a" stroke-width="0.12">T:Cf</text>
<text transform="translate(459.30,619.30) rotate(-90)" font-family='"DejaVu Sans","Liberation Sans",sans-serif' font-size="10.5" text-anchor="middle" fill="#4a4a4a" stroke="#4a4a4a" stroke-width="0.15">Coeff. [logit]</text>
</svg>
</body></html>
